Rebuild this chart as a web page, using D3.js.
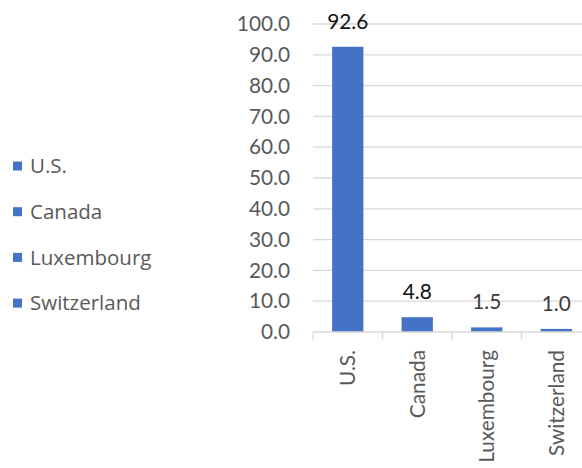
<!DOCTYPE html>
<html>
<head>
<meta charset="utf-8">
<script src="https://cdn.jsdelivr.net/npm/d3@7"></script>
<style>
  html, body { margin: 0; padding: 0; background: #fff; }
  svg { display: block; }
</style>
</head>
<body>
<svg id="chart" width="582" height="468"></svg>
<script>
const categories = ["U.S.", "Canada", "Luxembourg", "Switzerland"];
const values = [92.6, 4.8, 1.5, 1.0];
const yTicks = [0, 10, 20, 30, 40, 50, 60, 70, 80, 90, 100];
const labelColors = ["#111", "#111", "#3a3a3a", "#3a3a3a"];

const svg = d3.select("#chart");
const axisFont = "Lato, 'Open Sans', sans-serif";
const legendFont = "'Open Sans', 'Noto Sans', sans-serif";
const fontSize = 20.8;
const barColor = "#4472C4";

const x = d3.scaleBand().domain(categories).range([313, 591]).paddingInner(0.55).paddingOuter(0.275);
const y = d3.scaleLinear().domain([0, 100]).range([332, 24]);

// horizontal gridlines
svg.append("g")
  .selectAll("line")
  .data(yTicks.filter(d => d > 0))
  .join("line")
  .attr("x1", 313).attr("x2", 591)
  .attr("y1", d => y(d)).attr("y2", d => y(d))
  .attr("stroke", "#d9d9d9").attr("stroke-width", 1.3);

// y axis labels
const yAxis = d3.axisLeft(y).tickValues(yTicks).tickFormat(d3.format(".1f")).tickSize(0).tickPadding(0);
svg.append("g")
  .attr("transform", "translate(290,0)")
  .call(yAxis)
  .call(g => g.select(".domain").remove())
  .call(g => g.selectAll("text")
    .attr("font-family", axisFont).attr("font-size", fontSize).attr("fill", "#595959"));

// bars
svg.append("g")
  .selectAll("rect")
  .data(values)
  .join("rect")
  .attr("x", (d, i) => x(categories[i]))
  .attr("width", x.bandwidth())
  .attr("y", d => y(d))
  .attr("height", d => y(0) - y(d))
  .attr("fill", barColor);

// category axis with boundary ticks
const bandEdges = d3.range(categories.length + 1).map(i => 313 + i * x.step());
const xAxisG = svg.append("g");
xAxisG.append("line")
  .attr("x1", 313).attr("x2", 591).attr("y1", y(0)).attr("y2", y(0))
  .attr("stroke", "#d9d9d9").attr("stroke-width", 1.3);
xAxisG.selectAll("line.tick")
  .data(bandEdges)
  .join("line")
  .attr("class", "tick")
  .attr("x1", d => d).attr("x2", d => d)
  .attr("y1", y(0)).attr("y2", y(0) + 8)
  .attr("stroke", "#d9d9d9").attr("stroke-width", 1.3);
xAxisG.selectAll("text")
  .data(categories)
  .join("text")
  .attr("transform", d => `translate(${x(d) + x.bandwidth() / 2 + 7.5},350) rotate(-90)`)
  .attr("text-anchor", "end")
  .attr("font-family", axisFont).attr("font-size", fontSize).attr("fill", "#595959")
  .text(d => d);

// data labels
svg.append("g")
  .selectAll("text")
  .data(values)
  .join("text")
  .attr("x", (d, i) => x(categories[i]) + x.bandwidth() / 2)
  .attr("y", d => y(d) - 18)
  .attr("text-anchor", "middle")
  .attr("font-family", axisFont).attr("font-size", fontSize)
  .attr("fill", (d, i) => labelColors[i])
  .text(d => d3.format(".1f")(d));

// legend
const legend = svg.append("g")
  .selectAll("g")
  .data(categories)
  .join("g")
  .attr("transform", (d, i) => `translate(13,${166 + i * 45.7})`);
legend.append("rect")
  .attr("x", 0).attr("y", -4.5).attr("width", 9).attr("height", 9)
  .attr("fill", barColor);
legend.append("text")
  .attr("x", 17).attr("y", 0).attr("dy", "0.36em")
  .attr("font-family", legendFont).attr("font-size", 20.5)
  .attr("fill", "#595959")
  .text(d => d);
</script>
</body>
</html>
